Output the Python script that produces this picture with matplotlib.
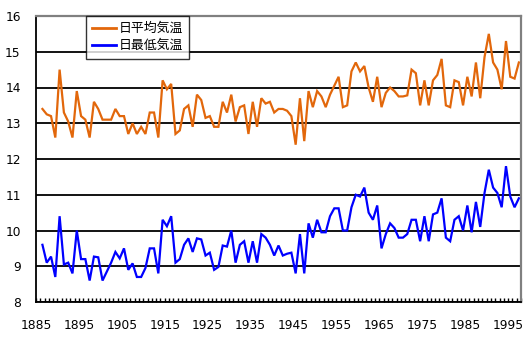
import matplotlib
matplotlib.use("Agg")
import matplotlib.pyplot as plt
from matplotlib.ticker import MultipleLocator
import numpy as np

years = list(range(1886, 1998))

mean_temp = [
    13.4, 13.25, 13.2, 12.6, 14.5, 13.3, 13.05, 12.6, 13.9, 13.2,   # 1886-1895
    13.1, 12.6, 13.6, 13.4, 13.1, 13.1, 13.1, 13.4, 13.2, 13.2,     # 1896-1905
    12.7, 13.0, 12.7, 12.9, 12.7, 13.3, 13.3, 12.6, 14.2, 13.95,    # 1906-1915
    14.1, 12.7, 12.8, 13.4, 13.5, 12.9, 13.8, 13.65, 13.15, 13.2,   # 1916-1925
    12.9, 12.9, 13.6, 13.3, 13.8, 13.05, 13.45, 13.5, 12.7, 13.6,   # 1926-1935
    12.9, 13.7, 13.55, 13.6, 13.3, 13.4, 13.4, 13.35, 13.2, 12.4,   # 1936-1945
    13.7, 12.5, 13.9, 13.45, 13.9, 13.75, 13.45, 13.8, 14.05, 14.3, # 1946-1955
    13.45, 13.5, 14.45, 14.7, 14.45, 14.6, 14.0, 13.6, 14.3, 13.45, # 1956-1965
    13.85, 14.0, 13.9, 13.75, 13.75, 13.78, 14.5, 14.4, 13.5, 14.2, # 1966-1975
    13.5, 14.2, 14.35, 14.8, 13.5, 13.45, 14.2, 14.15, 13.5, 14.3,  # 1976-1985
    13.75, 14.7, 13.7, 14.85, 15.5, 14.7, 14.5, 13.95, 15.3, 14.3,  # 1986-1995
    14.25, 14.7,                                                    # 1996-1997
]

min_temp = [
    9.6, 9.1, 9.27, 8.7, 10.4, 9.05, 9.1, 8.8, 10.0, 9.2,           # 1886-1895
    9.2, 8.6, 9.27, 9.25, 8.6, 8.85, 9.1, 9.4, 9.22, 9.5,           # 1896-1905
    8.9, 9.08, 8.7, 8.7, 8.95, 9.5, 9.5, 8.8, 10.3, 10.12,          # 1906-1915
    10.4, 9.1, 9.2, 9.6, 9.78, 9.4, 9.78, 9.75, 9.3, 9.38,          # 1916-1925
    8.9, 8.98, 9.58, 9.55, 10.0, 9.1, 9.6, 9.7, 9.1, 9.7,           # 1926-1935
    9.1, 9.9, 9.8, 9.6, 9.3, 9.58, 9.3, 9.35, 9.38, 8.8,            # 1936-1945
    9.9, 8.8, 10.2, 9.8, 10.3, 9.95, 9.95, 10.4, 10.62, 10.62,      # 1946-1955
    10.0, 10.0, 10.65, 11.0, 10.95, 11.2, 10.5, 10.3, 10.7, 9.5,    # 1956-1965
    9.9, 10.2, 10.07, 9.8, 9.8, 9.9, 10.3, 10.3, 9.7, 10.4,         # 1966-1975
    9.7, 10.45, 10.5, 10.9, 9.8, 9.7, 10.3, 10.4, 10.0, 10.7,       # 1976-1985
    9.95, 10.8, 10.1, 11.05, 11.7, 11.2, 11.05, 10.65, 11.8, 10.95, # 1986-1995
    10.65, 10.9,                                                    # 1996-1997
]

series_labels = ["日平均気温", "日最低気温"]
xtick_labels = list(range(1885, 1996, 10))
ytick_values = list(range(8, 17))

W, H = 526, 339
fig = plt.figure(figsize=(W / 100, H / 100), dpi=100)
fig.patch.set_facecolor("white")
ax = fig.add_axes([36 / W, 1 - 302 / H, (521 - 36) / W, (302 - 16) / H])

# category-centred positions (each year occupies one category slot)
x = np.array(years) + 0.5

ax.plot(x, mean_temp, color="#E2670B", lw=1.6, label=series_labels[0],
        solid_joinstyle="miter", zorder=3)
ax.plot(x, min_temp, color="#0000FF", lw=1.6, label=series_labels[1],
        solid_joinstyle="miter", zorder=3)

ax.set_xlim(1885, 1998)
ax.set_ylim(8, 16)
ax.set_yticks(ytick_values)
ax.set_yticklabels([str(v) for v in ytick_values])
ax.set_xticks(xtick_labels)
ax.set_xticklabels([str(v) for v in xtick_labels])
ax.xaxis.set_minor_locator(MultipleLocator(1))

ax.yaxis.grid(True, color="black", lw=1.3)
ax.set_axisbelow(True)

for side in ("left", "bottom"):
    ax.spines[side].set_color("black")
    ax.spines[side].set_linewidth(1.3)
for side in ("top", "right"):
    ax.spines[side].set_color("#808080")
    ax.spines[side].set_linewidth(1.6)

for lab in ax.get_xticklabels() + ax.get_yticklabels():
    lab.set_fontfamily("DejaVu Sans")
    lab.set_fontsize(8.8)

ax.tick_params(axis="y", length=0, pad=11, colors="black")
ax.tick_params(axis="x", which="major", direction="in", length=3, width=1,
               pad=12, colors="black")
ax.tick_params(axis="x", which="minor", direction="in", length=3, width=1)

leg = ax.legend(loc="upper left", bbox_to_anchor=((86 - 36) / 485, 1.0),
                borderaxespad=0, frameon=True, fancybox=False,
                prop={"family": ["Noto Sans CJK JP", "DejaVu Sans"], "size": 9.3},
                handlelength=1.85, handletextpad=0.2, labelspacing=0.32,
                borderpad=0.48)
leg.get_frame().set_edgecolor("black")
leg.get_frame().set_linewidth(1.0)
leg.set_zorder(5)
for line in leg.get_lines():
    line.set_linewidth(2.0)

fig.savefig("out.png", dpi=100, facecolor="white")
